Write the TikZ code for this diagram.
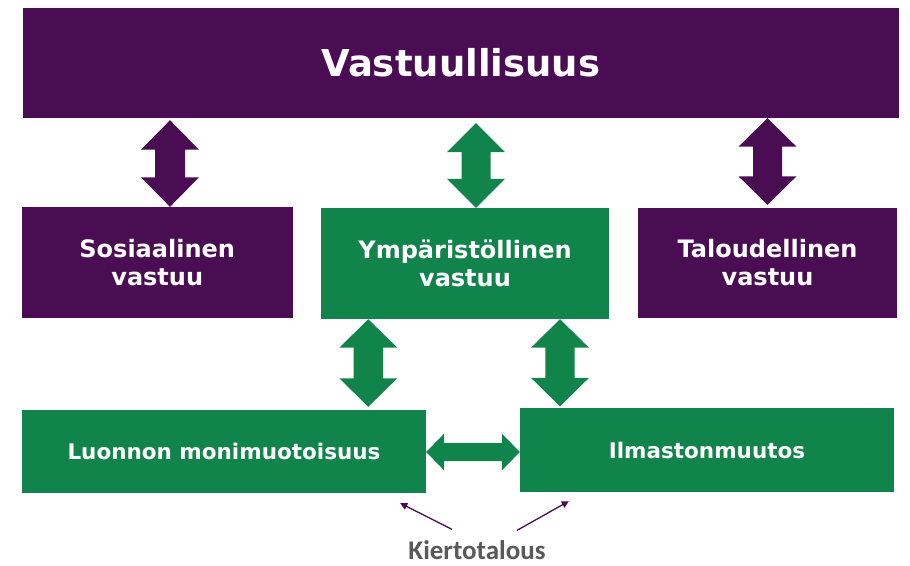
\documentclass[tikz,border=0pt]{standalone}
\usepackage{fontspec}
\setmainfont{DejaVu Sans}
\newfontfamily\kierfont{Carlito}
\usetikzlibrary{calc,arrows.meta}
\definecolor{vpurple}{HTML}{4A0D54}
\definecolor{vgreen}{HTML}{10844A}
\definecolor{vgray}{HTML}{595959}
% vertical double block arrow: colour, top point, bottom point, half head width, head length, half shaft width
\newcommand\bivert[6]{%
  \fill[#1] let \p1=(#2), \p2=(#3) in
    (\x1,\y1) -- (\x1+#4pt,\y1-#5pt) -- (\x1+#6pt,\y1-#5pt) -- (\x1+#6pt,\y2+#5pt)
    -- (\x1+#4pt,\y2+#5pt) -- (\x1,\y2) -- (\x1-#4pt,\y2+#5pt) -- (\x1-#6pt,\y2+#5pt)
    -- (\x1-#6pt,\y1-#5pt) -- (\x1-#4pt,\y1-#5pt) -- cycle;}
% horizontal double block arrow: colour, left point, right point, half head width, head length, half shaft width
\newcommand\bihoriz[6]{%
  \fill[#1] let \p1=(#2), \p2=(#3) in
    (\x1,\y1) -- (\x1+#5pt,\y1+#4pt) -- (\x1+#5pt,\y1+#6pt) -- (\x2-#5pt,\y1+#6pt)
    -- (\x2-#5pt,\y1+#4pt) -- (\x2,\y1) -- (\x2-#5pt,\y1-#4pt) -- (\x2-#5pt,\y1-#6pt)
    -- (\x1+#5pt,\y1-#6pt) -- (\x1+#5pt,\y1-#4pt) -- cycle;}
\begin{document}
\begin{tikzpicture}[x=1pt,y=-1pt,
  box/.style={rectangle, inner sep=0pt, text=white, align=center,
    font=\bfseries\fontsize{24}{28}\selectfont},
  pbox/.style={box, fill=vpurple},
  gbox/.style={box, fill=vgreen},
  thinarrow/.style={draw=vpurple, line width=1.3pt, -{Triangle[length=7pt,width=7pt]}}]
\useasboundingbox (0,0) rectangle (910,565);
% boxes
\node[pbox, minimum width=876.5pt, minimum height=110.5pt,
  font=\bfseries\fontsize{37}{40}\selectfont] (top) at (460.75,62.75) {Vastuullisuus};
\node[pbox, minimum width=271.5pt, minimum height=111pt] (soc) at (157.25,262.5) {Sosiaalinen\\vastuu};
\node[gbox, minimum width=288pt, minimum height=111pt] (env) at (465,263.5) {Ympäristöllinen\\vastuu};
\node[pbox, minimum width=259pt, minimum height=110pt] (eco) at (767.5,263) {Taloudellinen\\vastuu};
\node[gbox, minimum width=404pt, minimum height=83pt,
  font=\bfseries\fontsize{21.5}{26}\selectfont] (bio) at (224,451.5) {Luonnon monimuotoisuus};
\node[gbox, minimum width=374pt, minimum height=84pt,
  font=\bfseries\fontsize{21.5}{26}\selectfont] (cli) at (707,450) {Ilmastonmuutos};
\node[anchor=base, inner sep=0pt, text depth=0pt, text=vgray, font=\kierfont\bfseries\fontsize{27}{30}\selectfont]
  (kier) at (477,559) {Kiertotalous};
% block arrows
\bivert{vpurple}{$(top.south -| 170,0)+(0,2)$}{$(soc.north -| 170,0)$}{29}{29.5}{15}
\bivert{vgreen}{$(top.south -| 476,0)+(0,5)$}{$(env.north -| 476,0)$}{29}{29}{14.5}
\bivert{vpurple}{$(top.south -| 767.5,0)$}{$(eco.north -| 767.5,0)+(0,-3)$}{29}{28.5}{14.5}
\bivert{vgreen}{$(env.south -| 368.3,0)$}{$(bio.north -| 368.3,0)+(0,-3)$}{29}{28.5}{14.7}
\bivert{vgreen}{$(env.south -| 560,0)$}{$(cli.north -| 560,0)+(0,-1.5)$}{29}{28.5}{14.7}
\bihoriz{vgreen}{$(bio.east)+(0,0.5)$}{$(cli.west)+(0,2)$}{18.5}{18}{9}
% thin arrows from the label
\coordinate (k1) at ($(kier.north)+(-25,-10.5)$);
\coordinate (k2) at ($(kier.north)+(40,-9.5)$);
\draw[thinarrow] (k1) -- ($(bio.south east)+(-26,10)$);
\draw[thinarrow] (k2) -- ($(cli.south west)+(49,9)$);
\end{tikzpicture}
\end{document}
